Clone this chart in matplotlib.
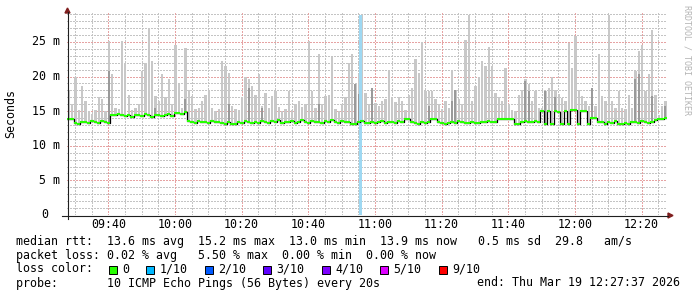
import numpy as np
import matplotlib
matplotlib.use("Agg")
import matplotlib.pyplot as plt
from matplotlib.lines import Line2D
from matplotlib.patches import Polygon, Rectangle
from matplotlib.transforms import offset_copy

# one sample per minute, window starts 09:27:37
start_time = "09:27:37"
median_ms = [13.9, 13.8, 13.3, 13.2, 13.4, 13.5, 13.3, 13.6, 13.5, 13.3, 13.6, 13.4, 13.3,
             14.4, 14.4, 14.6, 14.5, 14.3, 14.4, 14.2, 14.4, 14.5, 14.3, 14.6, 14.4, 14.2,
             14.4, 14.5, 14.3, 14.4, 14.6, 14.3, 14.7, 14.8, 14.6, 14.9,
             13.6, 13.4, 13.3, 13.6, 13.4, 13.5, 13.3, 13.6, 13.4, 13.5, 13.3, 13.2, 13.4,
             13.2, 13.2, 13.5, 13.3, 13.6, 13.4, 13.3, 13.5, 13.3, 13.6, 13.4,
             13.3, 13.6, 13.4, 13.7, 13.3, 13.5, 13.4, 13.6, 13.3, 13.5, 13.7, 13.4, 13.3,
             13.6, 13.4, 13.5, 13.3, 13.6, 13.4, 13.7, 13.5, 13.3, 13.6, 13.4, 13.5, 13.1,
             13.1, 13.4, 13.6, 13.3,
             13.3, 13.5, 13.3, 13.4, 13.6, 13.3, 13.5, 13.4, 13.3, 13.6, 13.5, 13.8, 13.9,
             13.5, 13.3, 13.2, 13.4, 13.3, 13.5, 13.9, 13.8, 13.4, 13.3, 13.2, 13.3, 13.5,
             13.3, 13.6, 13.4, 13.3,
             13.3, 13.4, 13.3, 13.3, 13.5, 13.5, 13.6, 13.5, 13.5, 13.9, 13.9, 13.9, 13.9,
             13.9, 13.1, 13.1, 13.5, 13.6, 13.4, 13.5, 13.6, 13.4,
             15.0, 13.2, 15.0, 13.1, 15.0, 14.9, 13.2, 15.0, 13.1, 15.1, 15.1, 13.2, 15.0,
             15.0, 13.2, 14.0, 14.0, 13.5,
             13.4, 13.2, 13.5, 13.3, 13.6, 13.2, 13.1, 13.3, 13.2, 13.4, 13.5, 13.3, 13.6,
             13.4, 13.3, 13.5, 13.7, 13.9, 13.9, 14.0]

smoke_max_ms = [18.1, 16.0, 20.0, 15.2, 18.6, 16.5, 15.0, 14.6, 15.2, 17.0,
                16.8, 15.0, 25.1, 20.3, 15.5, 15.3, 25.1, 22.0, 17.4, 15.2,
                15.5, 16.0, 20.8, 22.0, 27.0, 22.2, 17.2, 16.5, 20.3, 17.0,
                19.7, 16.0, 24.6, 18.9, 15.5, 24.1, 18.0, 17.2, 15.3, 15.5,
                16.4, 17.3, 18.1, 15.5, 15.0, 15.3, 22.2, 21.5, 20.5, 15.8,
                15.3, 15.2, 17.0, 20.0, 19.6, 18.6, 17.4, 20.3, 15.8, 17.6,
                15.5, 17.2, 17.9, 15.6, 15.0, 15.3, 17.9, 15.2, 16.0, 16.5,
                15.6, 16.0, 25.1, 17.9, 15.5, 23.2, 16.0, 17.2, 17.4, 22.8,
                15.3, 15.0, 16.0, 17.0, 22.0, 23.2, 18.9, 20.3, 28.9, 17.6,
                16.0, 18.3, 16.2, 15.8, 16.4, 16.8, 21.0, 17.0, 16.3, 17.0,
                16.5, 15.2, 17.4, 18.3, 22.6, 20.5, 25.0, 17.9, 17.9, 17.9,
                16.8, 16.0, 15.3, 16.4, 15.5, 21.0, 18.1, 16.8, 16.0, 25.3,
                28.9, 16.5, 18.6, 20.0, 22.2, 21.5, 24.3, 21.5, 17.6, 17.0,
                16.4, 21.3, 16.0, 15.2, 15.0, 17.4, 18.1, 19.6, 18.9, 16.5,
                17.9, 15.5, 15.5, 17.9, 18.3, 20.0, 18.0, 17.5, 16.9, 16.4,
                24.9, 21.3, 25.8, 18.0, 17.2, 16.4, 15.8, 18.3, 15.7, 23.2,
                17.2, 16.4, 28.9, 16.4, 15.5, 17.9, 15.5, 15.3, 17.4, 15.5,
                20.8, 23.7, 24.6, 17.9, 20.3, 26.8, 17.4, 14.4, 15.7, 16.4]

# darker smoke (more pings stacked)
dark_idx = [12, 26, 35, 48, 54, 58, 75, 86, 87, 91, 108, 115, 116, 137, 138, 143, 146, 157, 170, 171, 175, 179]
dark_top_ms = [20.8, 15.5, 16.8, 16.0, 18.3, 15.5, 16.0, 18.9, 17.5, 18.3, 15.8, 16.5, 18.1,
               19.3, 17.9, 17.9, 17.0, 18.3, 19.6, 20.3, 17.2, 15.7]

# one ping lost out of 10
loss_idx = [88]
loss_top_ms = [28.9]

time_labels = ["09:40", "10:00", "10:20", "10:40", "11:00", "11:20", "11:40", "12:00", "12:20"]
y_ticks = [0, 5, 10, 15, 20, 25]
y_labels = ["0", "5 m", "10 m", "15 m", "20 m", "25 m"]

loss_labels = ["0", "1/10", "2/10", "3/10", "4/10", "5/10", "9/10"]
loss_colors = ["#26ff00", "#00b8ff", "#0059ff", "#5e00ff", "#7e00ff", "#dd00ff", "#ff0000"]

line_rtt = "median rtt:  13.6 ms avg  15.2 ms max  13.0 ms min  13.9 ms now   0.5 ms sd  29.8   am/s"
line_loss = "packet loss: 0.02 % avg   5.50 % max  0.00 % min  0.00 % now"
line_probe = "probe:       10 ICMP Echo Pings (56 Bytes) every 20s"
line_end = "end: Thu Mar 19 12:27:37 2026"

W, H = 697, 297
mono = "DejaVu Sans Mono"
fs = 8.4


def fx(x):
    return x / W


def fy(y):
    return 1 - y / H


def to_min(s):
    p = [int(v) for v in s.split(":")]
    return p[0] * 60 + p[1] + (p[2] / 60 if len(p) > 2 else 0)


t0 = to_min(start_time)
n = len(median_ms)
t = np.arange(n)
med = np.array(median_ms)
smax = np.array(smoke_max_ms)

fig = plt.figure(figsize=(W / 100, H / 100), dpi=100)
fig.patch.set_facecolor("white")
ax = fig.add_axes([fx(67), fy(215), 600 / W, 202.8 / H])
ax.set_xlim(0, 180)
ax.set_ylim(0, 29.3)
ax.axis("off")

grid_minor = "#c4c4c4"
grid_major = "#e6a3a3"
dots = (0, (1.5, 1.5))

for v in range(1, 30):
    c = grid_major if v % 5 == 0 else grid_minor
    ax.axhline(v, color=c, lw=0.72, ls=dots, antialiased=False, zorder=1)

first = to_min(time_labels[0]) - t0
k = -10
while True:
    xm = first + 5 * k
    k += 1
    if xm <= 0:
        continue
    if xm >= 180:
        break
    c = grid_major if (k - 1) % 4 == 0 else grid_minor
    ax.axvline(xm, color=c, lw=0.72, ls=dots, antialiased=False, zorder=1)

# smoke
ax.bar(t + 0.5, smax - med, bottom=med, width=0.7, color="#c8c8c8", linewidth=0, zorder=2)
di = np.array(dark_idx)
ax.bar(di + 0.5, np.array(dark_top_ms) - med[di], bottom=med[di], width=0.6,
       color="#9a9a9a", linewidth=0, zorder=3)

# loss marker
ax.bar(loss_idx, loss_top_ms, width=0.7, color="#9ed8f2", linewidth=0, zorder=4)

# median line
ax.step(np.append(t, n), np.append(med, med[-1]), where="post", color="black", lw=0.9, zorder=5)
ax.hlines(med, t, t + 1, color=loss_colors[0], lw=1.5, zorder=6)

# axes + arrows
axis_col = (0.12, 0.12, 0.12)
arrow_col = (0.5, 0.12, 0.12)
fig.add_artist(Line2D([fx(67.5), fx(67.5)], [fy(219), fy(12)], color=axis_col, lw=0.8,
                      transform=fig.transFigure))
fig.add_artist(Line2D([fx(62), fx(668)], [fy(215.5), fy(215.5)], color=axis_col, lw=0.8,
                      transform=fig.transFigure))
fig.add_artist(Polygon([[fx(65), fy(13)], [fx(70), fy(13)], [fx(67.5), fy(8)]], closed=True,
                       color=arrow_col, transform=fig.transFigure))
fig.add_artist(Polygon([[fx(668), fy(213)], [fx(668), fy(218)], [fx(673), fy(215.5)]], closed=True,
                       color=arrow_col, transform=fig.transFigure))

# tick labels
ytr = offset_copy(ax.get_yaxis_transform(), fig=fig, x=-7, y=0, units="dots")
ytr0 = offset_copy(ax.get_yaxis_transform(), fig=fig, x=-19, y=0, units="dots")
for v, lab in zip(y_ticks, y_labels):
    tr = ytr0 if lab == "0" else ytr
    ax.text(0, v, lab, transform=tr, ha="right", va="center", family=mono, size=fs)

xtr = offset_copy(ax.get_xaxis_transform(), fig=fig, x=0, y=-9, units="dots")
for lab in time_labels:
    ax.text(to_min(lab) - t0, 0, lab, transform=xtr, ha="center", va="center", family=mono, size=fs)

fig.text(fx(11), fy(114), "Seconds", rotation=90, ha="center", va="center", family=mono, size=fs)
fig.text(fx(687.5), fy(60), "RRDTOOL / TOBI OETIKER", rotation=270, ha="center", va="center",
         family=mono, size=6, color="#b4b4b4")

# legend / stats
fig.text(fx(16), fy(241), line_rtt, ha="left", va="center", family=mono, size=fs)
fig.text(fx(16), fy(255), line_loss, ha="left", va="center", family=mono, size=fs)
fig.text(fx(16), fy(269), "loss color:", ha="left", va="center", family=mono, size=fs)
fig.text(fx(16), fy(283), line_probe, ha="left", va="center", family=mono, size=fs)
fig.text(fx(477), fy(283), line_end, ha="left", va="center", family=mono, size=fs)

bx = 108.5
for lab, c in zip(loss_labels, loss_colors):
    fig.add_artist(Rectangle((fx(bx), fy(273.5)), 8 / W, 8 / H, facecolor=c, edgecolor="black",
                             lw=0.7, transform=fig.transFigure))
    fig.text(fx(bx + 13.5), fy(269.5), lab, ha="left", va="center", family=mono, size=fs)
    bx = bx + 13.5 + 7 * len(lab) + 17

fig.savefig("out.png", dpi=100)
